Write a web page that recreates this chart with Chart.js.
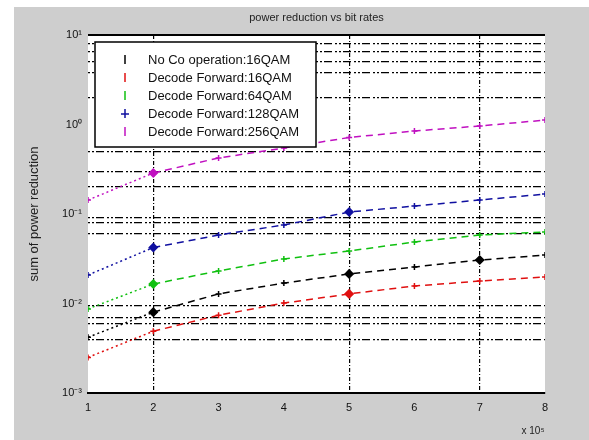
<!DOCTYPE html>
<html>
<head>
<meta charset="utf-8">
<title>power reduction vs bit rates</title>
<script src="https://cdn.jsdelivr.net/npm/chart.js@4/dist/chart.umd.min.js"></script>
<style>
  body { margin: 0; background: #ffffff; }
  canvas { display: block; }
</style>
</head>
<body>
<canvas id="chart" width="589" height="440"></canvas>
<script>
// bit rate (x 10^5)
const bitRates = [1, 2, 3, 4, 5, 6, 7, 8];

// values
const noCoop16 = [0.0042, 0.0080, 0.0128, 0.0169, 0.0214, 0.0256, 0.0306, 0.0348];
const decFwd16 = [0.0025, 0.0049, 0.0074, 0.0101, 0.0128, 0.0157, 0.0178, 0.0198];
const decFwd64 = [0.0087, 0.0165, 0.0231, 0.0314, 0.0386, 0.0487, 0.0583, 0.0630];
const decFwd128 = [0.0208, 0.0422, 0.0583, 0.0754, 0.1052, 0.1228, 0.1433, 0.167];
const decFwd256 = [0.143, 0.287, 0.423, 0.546, 0.716, 0.846, 0.962, 1.12];

const seriesNames = [
  'No Co operation:16QAM',
  'Decode Forward:16QAM',
  'Decode Forward:64QAM',
  'Decode Forward:128QAM',
  'Decode Forward:256QAM'
];
const seriesValues = [noCoop16, decFwd16, decFwd64, decFwd128, decFwd256];
const seriesColors = ['#000000', '#e01010', '#10c010', '#1010a0', '#c010c0'];
// bit rates where the big markers sit
const bigMarkers = [[2, 5, 7], [5], [2], [2, 5], [2]];

// y axis: decade labels and the dotted grid lines
const yDecades = [0.001, 0.01, 0.1, 1, 10];
const yGridValues = [8, 6.5, 5, 3.8, 2, 0.5, 0.3, 0.2, 0.09, 0.08, 0.06, 0.0095, 0.007, 0.006, 0.004];
const xGridValues = [2, 5, 7];

const supers = { '-': '⁻', '0': '⁰', '1': '¹', '2': '²', '3': '³' };
function decadeLabel(v) {
  const e = String(Math.round(Math.log10(v)));
  return '10' + e.split('').map(c => supers[c]).join('');
}

const datasets = seriesValues.map((vals, i) => ({
  label: seriesNames[i],
  data: vals.map((v, j) => ({ x: bitRates[j], y: v })),
  borderColor: seriesColors[i],
  backgroundColor: seriesColors[i],
  borderWidth: 1.5,
  pointStyle: bitRates.map(x => bigMarkers[i].includes(x) ? 'rectRot' : 'cross'),
  pointRadius: bitRates.map(x => bigMarkers[i].includes(x) ? 4 : 3),
  pointBorderWidth: 1.5,
  segment: {
    borderDash: ctx => ctx.p0DataIndex === 0 ? [2, 3] : [7, 5]
  },
  fill: false
}));

const figurePlugin = {
  id: 'figure',
  beforeDraw(chart) {
    const { ctx, chartArea: a } = chart;
    ctx.save();
    ctx.fillStyle = '#ffffff';
    ctx.fillRect(0, 0, chart.width, chart.height);
    ctx.fillStyle = '#cecece';
    ctx.fillRect(14, 7, chart.width - 14, chart.height - 7);
    ctx.fillStyle = '#ffffff';
    ctx.fillRect(a.left, a.top, a.right - a.left, a.bottom - a.top);
    ctx.restore();
  },
  afterDraw(chart) {
    const { ctx, chartArea: a } = chart;
    ctx.save();
    // top axis line
    ctx.strokeStyle = '#000';
    ctx.lineWidth = 2;
    ctx.beginPath();
    ctx.moveTo(a.left, a.top);
    ctx.lineTo(a.right, a.top);
    ctx.stroke();

    // title
    ctx.fillStyle = '#222';
    ctx.font = '11px "Liberation Sans", Arial, sans-serif';
    ctx.textAlign = 'center';
    ctx.textBaseline = 'middle';
    ctx.fillText('power reduction vs bit rates', (a.left + a.right) / 2, 18);

    // x multiplier
    ctx.font = '10px "Liberation Sans", Arial, sans-serif';
    ctx.fillText('x 10⁵', 533, 431);

    // y label
    ctx.font = '13px "Liberation Sans", Arial, sans-serif';
    ctx.save();
    ctx.translate(34, (a.top + a.bottom) / 2);
    ctx.rotate(-Math.PI / 2);
    ctx.fillText('sum of power reduction', 0, 0);
    ctx.restore();

    // legend
    const lx = 95, ly = 42, lw = 221, lh = 105;
    ctx.fillStyle = '#ffffff';
    ctx.fillRect(lx, ly, lw, lh);
    ctx.strokeStyle = '#000';
    ctx.lineWidth = 1.5;
    ctx.strokeRect(lx, ly, lw, lh);
    ctx.font = '13px "Liberation Sans", Arial, sans-serif';
    ctx.textAlign = 'left';
    seriesNames.forEach((name, i) => {
      const y = ly + 18 + i * 18;
      ctx.strokeStyle = seriesColors[i];
      ctx.lineWidth = 1.5;
      ctx.beginPath();
      ctx.moveTo(125, y - 5);
      ctx.lineTo(125, y + 4);
      if (i === 3) {
        ctx.moveTo(121, y);
        ctx.lineTo(129, y);
      }
      ctx.stroke();
      ctx.fillStyle = '#111';
      ctx.fillText(name, 148, y);
    });
    ctx.restore();
  }
};

const ctx = document.getElementById('chart').getContext('2d');
new Chart(ctx, {
  type: 'line',
  data: { datasets: datasets },
  options: {
    responsive: false,
    animation: false,
    layout: { padding: { left: 0, right: 44, top: 35, bottom: 0 } },
    plugins: {
      legend: { display: false },
      title: { display: false },
      tooltip: { enabled: false }
    },
    scales: {
      x: {
        type: 'linear',
        min: 1,
        max: 8,
        afterFit: scale => { scale.height = 47; },
        afterBuildTicks: scale => {
          scale.ticks = bitRates.map(v => ({ value: v }));
        },
        ticks: {
          color: '#111',
          font: { family: '"Liberation Sans", Arial, sans-serif', size: 11 },
          padding: 8,
          maxRotation: 0,
          autoSkip: false
        },
        grid: {
          drawTicks: false,
          lineWidth: 1.2,
          color: c => c.tick && xGridValues.includes(c.tick.value) ? '#000' : 'rgba(0,0,0,0)'
        },
        border: { display: true, color: '#000', width: 2, dash: [4, 2, 1, 2] }
      },
      y: {
        type: 'logarithmic',
        min: 0.001,
        max: 10,
        afterFit: scale => { scale.width = 88; },
        afterBuildTicks: scale => {
          scale.ticks = yDecades.concat(yGridValues)
            .sort((p, q) => p - q)
            .map(v => ({ value: v, major: yDecades.includes(v) }));
        },
        ticks: {
          color: '#111',
          font: { family: '"Liberation Sans", Arial, sans-serif', size: 11 },
          padding: 6,
          autoSkip: false,
          callback: v => yDecades.includes(v) ? decadeLabel(v) : ''
        },
        grid: {
          drawTicks: false,
          lineWidth: 1.2,
          color: c => c.tick && !yDecades.includes(c.tick.value) ? '#000' : 'rgba(0,0,0,0)'
        },
        border: { display: false, dash: [2, 2, 2, 2, 8, 3] }
      }
    }
  },
  plugins: [figurePlugin]
});
</script>
</body>
</html>
